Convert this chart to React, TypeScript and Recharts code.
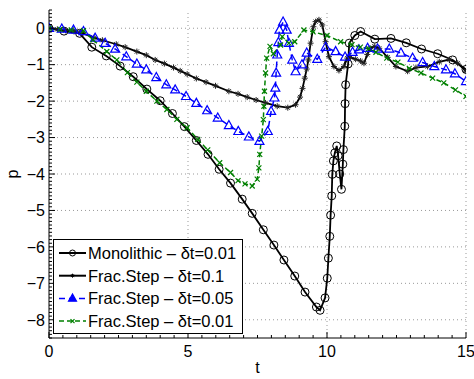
import React from "react";
import { LineChart, Line, XAxis, YAxis, ReferenceLine } from "recharts";

// Monolithic – δt=0.01
const monoT = [0, 0.54, 1.1, 1.54, 2.06, 2.56, 3.03, 3.52, 4.0, 4.44, 4.87, 5.3, 5.72, 6.12, 6.53, 6.95, 7.31, 7.71, 8.09, 8.45, 8.84, 9.21, 9.62, 9.75, 9.93, 10.01, 10.05, 10.1, 10.13, 10.17, 10.19, 10.23, 10.28, 10.35, 10.4, 10.46, 10.52, 10.57, 10.59, 10.64, 10.65, 10.67, 10.76, 10.8, 11.0, 11.21, 11.72, 12.3, 12.85, 13.4, 13.98, 14.52, 15.0];
const monoP = [0, -0.08, -0.14, -0.52, -0.76, -1.04, -1.33, -1.67, -1.99, -2.34, -2.7, -3.08, -3.46, -3.87, -4.25, -4.69, -5.08, -5.53, -5.95, -6.36, -6.8, -7.24, -7.65, -7.74, -7.4, -6.86, -6.31, -5.71, -5.13, -4.6, -4.01, -3.64, -3.42, -3.23, -3.5, -4.0, -4.42, -3.73, -3.33, -2.69, -2.07, -1.55, -0.98, -0.41, -0.2, -0.09, -0.3, -0.28, -0.4, -0.57, -0.7, -0.87, -1.13];

// Frac.Step – δt=0.1
const fs1T = [0, 0.3, 0.6, 0.9, 1.15, 1.62, 1.92, 2.42, 2.74, 3.16, 3.5, 3.82, 4.15, 4.48, 4.72, 4.97, 5.3, 5.65, 5.99, 6.47, 6.8, 7.13, 7.45, 7.79, 8.21, 8.59, 8.87, 9.03, 9.12, 9.2, 9.27, 9.33, 9.41, 9.51, 9.59, 9.71, 9.83, 9.95, 10.07, 10.25, 10.43, 10.61, 10.73, 10.85, 11.03, 11.21, 11.33, 11.45, 11.55, 11.7, 11.88, 12.18, 12.48, 12.9, 13.2, 13.62, 14.04, 14.4, 14.7, 15.0];
const fs1P = [0, -0.03, -0.06, -0.09, -0.12, -0.26, -0.33, -0.44, -0.52, -0.64, -0.74, -0.87, -0.97, -1.08, -1.17, -1.26, -1.38, -1.48, -1.58, -1.73, -1.8, -1.89, -1.97, -2.05, -2.14, -2.18, -2.1, -1.89, -1.65, -1.37, -1.12, -0.87, -0.41, 0.04, 0.18, 0.23, 0.09, -0.37, -0.78, -1.05, -1.16, -1.05, -0.82, -0.8, -0.85, -0.9, -0.96, -0.72, -0.55, -0.5, -0.55, -0.8, -1.05, -1.18, -1.08, -1.05, -0.92, -0.86, -0.96, -1.18];

// Frac.Step – δt=0.05
const fs05T = [0, 0.46, 0.88, 1.24, 1.66, 2.02, 2.38, 2.78, 3.16, 3.5, 3.86, 4.22, 4.54, 4.93, 5.3, 5.69, 6.07, 6.47, 6.81, 7.19, 7.57, 7.87, 7.99, 8.11, 8.14, 8.17, 8.21, 8.25, 8.29, 8.42, 8.55, 8.63, 8.75, 8.87, 9.1, 9.27, 9.65, 9.95, 10.31, 10.65, 10.92, 11.15, 11.46, 11.82, 12.24, 12.66, 13.08, 13.44, 13.86, 14.28, 14.6, 15.0];
const fs05P = [0, -0.02, -0.05, -0.09, -0.27, -0.41, -0.57, -0.78, -0.98, -1.14, -1.35, -1.55, -1.69, -1.87, -2.06, -2.26, -2.46, -2.67, -2.83, -2.98, -3.1, -2.83, -2.28, -1.91, -1.64, -1.23, -0.73, -0.39, -0.05, 0.17, -0.05, -0.41, -0.87, -1.19, -1.0, -0.68, -0.85, -0.52, -0.64, -0.79, -0.66, -0.59, -0.55, -0.57, -0.57, -0.68, -0.82, -0.94, -1.05, -1.14, -1.25, -1.46];

// Frac.Step – δt=0.01
const fs01T = [0, 0.4, 0.8, 1.24, 1.58, 2.08, 2.44, 2.82, 3.16, 3.5, 3.88, 4.24, 4.6, 4.97, 5.35, 5.71, 6.14, 6.53, 6.8, 7.05, 7.31, 7.49, 7.55, 7.58, 7.65, 7.71, 7.73, 7.75, 7.79, 7.83, 7.95, 8.07, 8.33, 8.39, 8.63, 8.84, 9.17, 9.5, 10.0, 10.49, 10.9, 11.2, 11.5, 11.76, 12.15, 12.55, 12.96, 13.38, 13.8, 14.2, 14.62, 15.0];
const fs01P = [0, -0.03, -0.05, -0.07, -0.32, -0.64, -0.87, -1.22, -1.48, -1.73, -2.0, -2.23, -2.5, -2.73, -3.05, -3.34, -3.69, -3.96, -4.18, -4.27, -4.33, -4.14, -3.83, -3.46, -2.96, -2.51, -2.14, -1.73, -1.23, -0.82, -0.5, -0.7, -0.46, -0.23, -0.41, -0.37, -0.05, -0.1, -0.2, -0.37, -0.45, -0.52, -0.56, -0.66, -0.82, -0.93, -1.1, -1.23, -1.37, -1.5, -1.69, -1.87];

const xTicks = [0, 5, 10, 15];
const yTicks = [-8, -7, -6, -5, -4, -3, -2, -1, 0];
const xMinor = Array.from({ length: 31 }, (_, i) => i * 0.5);
const yMinor = Array.from({ length: 91 }, (_, i) => Math.round((-8.5 + i * 0.1) * 10) / 10);

const legendNames = [
  "Monolithic – δt=0.01",
  "Frac.Step – δt=0.1",
  "Frac.Step – δt=0.05",
  "Frac.Step – δt=0.01",
];

const BLUE = "#0000ff";
const GREEN = "#008000";
const FONT = "'Liberation Sans', Arial, sans-serif";

const rows = (t: number[], p: number[]) => t.map((v, i) => ({ t: v, p: p[i] }));

const circlePath = (cx: number, cy: number, r: number) => (
  <circle cx={cx} cy={cy} r={r} fill="none" stroke="#000" strokeWidth={1} />
);
const starPath = (cx: number, cy: number, r: number, color: string) => {
  const d = r * 0.7;
  return (
    <path
      d={`M${cx - r},${cy}H${cx + r}M${cx},${cy - r}V${cy + r}M${cx - d},${cy - d}L${cx + d},${cy + d}M${cx - d},${cy + d}L${cx + d},${cy - d}`}
      stroke={color}
      strokeWidth={1}
      fill="none"
    />
  );
};
const triPath = (cx: number, cy: number, s: number, fill: string) => (
  <path
    d={`M${cx},${cy - s * 1.1}L${cx - s},${cy + s * 0.7}L${cx + s},${cy + s * 0.7}Z`}
    stroke={BLUE}
    strokeWidth={1.2}
    fill={fill}
  />
);
const xPath = (cx: number, cy: number, r: number) => (
  <path
    d={`M${cx - r},${cy - r}L${cx + r},${cy + r}M${cx - r},${cy + r}L${cx + r},${cy - r}`}
    stroke={GREEN}
    strokeWidth={1.2}
    fill="none"
  />
);

const circleDot = (props: any) => (
  <g key={`o${props.index}`}>{circlePath(props.cx, props.cy, 4)}</g>
);
const starDot = (props: any) => (
  <g key={`s${props.index}`}>{starPath(props.cx, props.cy, 3, "#222")}</g>
);
const triDot = (props: any) => (
  <g key={`t${props.index}`}>{triPath(props.cx, props.cy, 4.5, "none")}</g>
);
const xDot = (props: any) => (
  <g key={`x${props.index}`}>{xPath(props.cx, props.cy, 2.5)}</g>
);

const fmt = (v: number) => (v < 0 ? `−${-v}` : `${v}`);

// ticks point inward, MATLAB style; labels only on the major ticks
const XTick = (props: any) => {
  const { x, y, payload } = props;
  const v = payload.value;
  const major = xTicks.includes(v);
  return (
    <g>
      <line x1={x} x2={x} y1={y} y2={y - (major ? 6 : 3)} stroke="#000" />
      {major && (
        <text x={x} y={y + 7} dy="0.72em" textAnchor="middle" fontSize={16} fontFamily={FONT} fill="#000">
          {fmt(v)}
        </text>
      )}
    </g>
  );
};
const YTick = (props: any) => {
  const { x, y, payload } = props;
  const v = payload.value;
  const major = yTicks.includes(v);
  return (
    <g>
      <line x1={x} x2={x + (major ? 6 : 3)} y1={y} y2={y} stroke="#000" />
      {major && (
        <text x={x - 4} y={y} dy="0.36em" textAnchor="end" fontSize={16} fontFamily={FONT} fill="#000">
          {fmt(v)}
        </text>
      )}
    </g>
  );
};

const Legend = () => {
  const rowY = (i: number) => 13 + i * 22.7;
  return (
    <svg
      width={191}
      height={96}
      style={{ position: "absolute", left: 45, top: 231 }}
    >
      <rect x={0.5} y={0.5} width={189} height={94} fill="#fff" stroke="#000" strokeWidth={1} />
      {legendNames.map((name, i) => {
        const y = rowY(i) + 1;
        const color = i < 2 ? "#000" : i === 2 ? BLUE : GREEN;
        const dash = i === 2 ? "6 4" : i === 3 ? "5 3" : undefined;
        return (
          <g key={name}>
            <line x1={6} x2={33} y1={y} y2={y} stroke={color} strokeWidth={i < 2 ? 2 : 1.5} strokeDasharray={dash} />
            {i === 0 && circlePath(19.5, y, 3)}
            {i === 1 && starPath(19.5, y, 2, "#000")}
            {i === 2 && triPath(19.5, y, 4, BLUE)}
            {i === 3 && xPath(19.5, y, 2)}
            <text x={35} y={y} dominantBaseline="central" fontSize={16.5} fontFamily={FONT} fill="#000">
              {name}
            </text>
          </g>
        );
      })}
    </svg>
  );
};

const gridStyle = { stroke: "#999", strokeDasharray: "1 3", strokeWidth: 1 };

const App: React.FC = () => {
  return (
    <div style={{ padding: "8px 0 0 8px", width: 466 }}>
      <style>{`body{margin:0;overflow:hidden}.recharts-wrapper,.recharts-surface{overflow:visible !important}`}</style>
      <div style={{ position: "relative", width: 466, height: 371, fontFamily: FONT }}>
        <LineChart width={466} height={371} margin={{ top: 2, right: 8, bottom: 1, left: 0 }}>
          <XAxis
            type="number"
            dataKey="t"
            domain={[0, 15]}
            allowDataOverflow
            ticks={xMinor}
            interval={0}
            height={40}
            tickLine={false}
            tickSize={0}
            tickMargin={0}
            axisLine={{ stroke: "#000" }}
            tick={XTick}
            label={{ value: "t", position: "insideBottom", offset: 5, fill: "#000", fontSize: 16, fontFamily: FONT }}
          />
          <YAxis
            type="number"
            dataKey="p"
            domain={[-8.5, 0.5]}
            allowDataOverflow
            ticks={yMinor}
            interval={0}
            width={41}
            tickLine={false}
            tickSize={0}
            tickMargin={0}
            axisLine={{ stroke: "#000" }}
            tick={YTick}
            label={{
              content: (props: any) => {
                const vb = props.viewBox || { x: 0, y: 0, height: 0 };
                const x = vb.x + 10;
                const y = vb.y + vb.height / 2;
                return (
                  <text x={x} y={y} transform={`rotate(-90 ${x} ${y})`} textAnchor="middle" fontSize={16} fontFamily={FONT} fill="#000">
                    p
                  </text>
                );
              },
            }}
          />
          {xTicks.slice(1).map((v) => (
            <ReferenceLine key={`gx${v}`} x={v} {...gridStyle} />
          ))}
          {yTicks.map((v) => (
            <ReferenceLine key={`gy${v}`} y={v} {...gridStyle} />
          ))}

          <Line data={rows(monoT, monoP)} dataKey="p" type="linear" stroke="#000" strokeWidth={1.8} dot={circleDot} activeDot={false} isAnimationActive={false} />
          <Line data={rows(fs1T, fs1P)} dataKey="p" type="linear" stroke="#000" strokeWidth={1.8} dot={starDot} activeDot={false} isAnimationActive={false} />
          <Line data={rows(fs05T, fs05P)} dataKey="p" type="linear" stroke={BLUE} strokeWidth={1.5} strokeDasharray="6 4" dot={triDot} activeDot={false} isAnimationActive={false} />
          <Line data={rows(fs01T, fs01P)} dataKey="p" type="linear" stroke={GREEN} strokeWidth={1.5} strokeDasharray="5 3" dot={xDot} activeDot={false} isAnimationActive={false} />
        </LineChart>
        <Legend />
      </div>
    </div>
  );
};

export default App;
